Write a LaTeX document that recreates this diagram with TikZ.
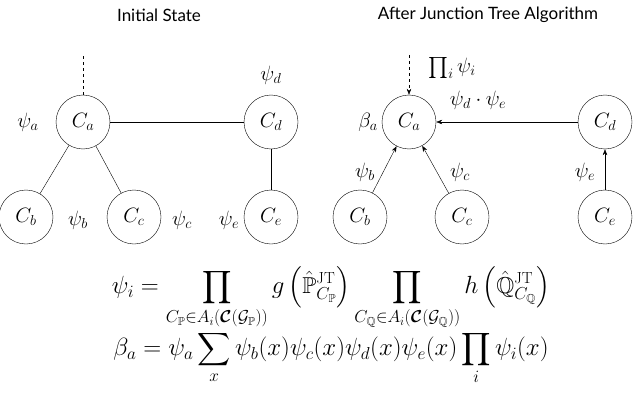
\documentclass[tikz,border=0pt]{standalone}
\usepackage{amsmath,amssymb,bm}
\usepackage{fontspec}
\newfontfamily\ttl{Lato}
\usetikzlibrary{arrows.meta}
\begin{document}
\begin{tikzpicture}[x=1pt,y=-1pt,
  cl/.style={circle,draw,minimum size=54pt,inner sep=0pt,font=\fontsize{21}{24}\selectfont},
  lb/.style={font=\fontsize{21}{24}\selectfont},
  eq/.style={font=\fontsize{23}{26}\selectfont},
  ar/.style={-{Stealth[length=6pt]}}]
\useasboundingbox (0,0) rectangle (640,404);
\node[font=\ttl\fontsize{17}{20}\selectfont] (t1) at (159,15) {Initial State};
\node[font=\ttl\fontsize{17}{20}\selectfont] (t2) at (488,15) {After Junction Tree Algorithm};
% left
\node[cl] (a) at (83,122) {$C_a$};
\node[cl] (d) at (271,122) {$C_d$};
\node[cl] (b) at (26,217) {$C_b$};
\node[cl] (c) at (134,217) {$C_c$};
\node[cl] (e) at (271,217) {$C_e$};
\coordinate (top) at (83,55);
\draw[dashed] (a) -- (top);
\draw (a) -- (d); \draw (a) -- (b); \draw (a) -- (c); \draw (d) -- (e);
\node[lb] (la) at (28,122) {$\psi_a$};
\node[lb] (ld) at (271,75) {$\psi_d$};
\node[lb] (lb1) at (78,220) {$\psi_b$};
\node[lb] (lc1) at (182,220) {$\psi_c$};
\node[lb] (le1) at (229,220) {$\psi_e$};
% right
\node[cl] (A) at (409,122) {$C_a$};
\node[cl] (D) at (605,122) {$C_d$};
\node[cl] (B) at (360,217) {$C_b$};
\node[cl] (C) at (462,217) {$C_c$};
\node[cl] (E) at (605,217) {$C_e$};
\coordinate (TOP) at (409,55);
\draw[dashed,ar] (TOP) -- (A);
\draw[ar] (D) -- (A); \draw[ar] (B) -- (A); \draw[ar] (C) -- (A); \draw[ar] (E) -- (D);
\node[lb] (lp) at (452,68) {$\prod_i\psi_i$};
\node[lb] (lbe) at (368,122) {$\beta_a$};
\node[lb] (lde) at (478,100) {$\psi_d\cdot\psi_e$};
\node[lb] (lb2) at (365,172) {$\psi_b$};
\node[lb] (lc2) at (460,172) {$\psi_c$};
\node[lb] (le2) at (585,172) {$\psi_e$};
% equations
\node[eq] (eq1) at (331,298) {$\displaystyle \psi_i=\prod_{C_{\mathbb P}\in A_i(\bm{\mathcal C}(\mathcal G_{\mathbb P}))} g\left(\hat{\mathbb P}^{\mathrm{JT}}_{C_{\mathbb P}}\right)\prod_{C_{\mathbb Q}\in A_i(\bm{\mathcal C}(\mathcal G_{\mathbb Q}))} h\left(\hat{\mathbb Q}^{\mathrm{JT}}_{C_{\mathbb Q}}\right)$};
\node[eq] (eq2) at (331,358) {$\displaystyle \beta_a=\psi_a\sum_x\psi_b(x)\psi_c(x)\psi_d(x)\psi_e(x)\prod_i\psi_i(x)$};
\end{tikzpicture}
\end{document}
